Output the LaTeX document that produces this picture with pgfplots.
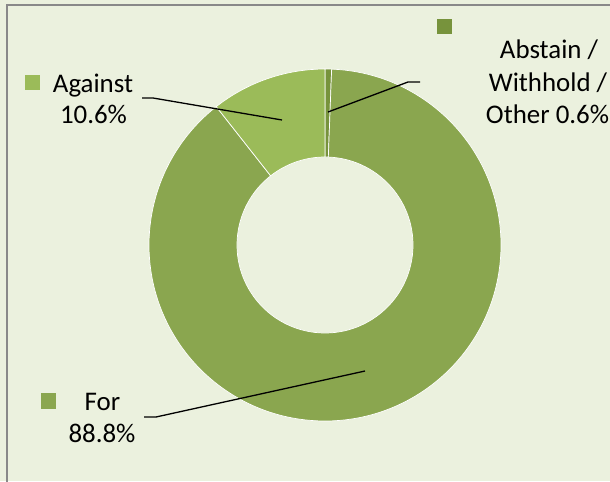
\documentclass[border=0pt]{standalone}
\usepackage{fontspec}
\setmainfont{Carlito}
\usepackage{pgfplots}
\usepackage{pgfplotstable}
\pgfplotsset{compat=1.18}
\usetikzlibrary{calc}
\definecolor{bgc}{RGB}{235,241,222}
\definecolor{forc}{RGB}{138,166,79}
\definecolor{agc}{RGB}{155,187,89}
\definecolor{abc}{RGB}{119,147,60}
\definecolor{brd}{RGB}{137,137,137}
\pgfplotstableread{
label value
Abstain 0.6
For 88.8
Against 10.6
}\votes
\newcommand\slice[3]{%
  \fill[#3,draw=white,line width=0.7bp]
    ($(axis cs:325,245)+(#1:176bp)$) arc[start angle=#1,end angle=#2,radius=176bp]
    -- ($(axis cs:325,245)+(#2:88bp)$) arc[start angle=#2,end angle=#1,radius=88bp] -- cycle;}
\begin{document}%
\pgfplotstablegetelem{0}{value}\of\votes\pgfmathsetmacro{\vA}{\pgfplotsretval}%
\pgfplotstablegetelem{1}{value}\of\votes\pgfmathsetmacro{\vB}{\pgfplotsretval}%
\pgfplotstablegetelem{2}{value}\of\votes\pgfmathsetmacro{\vC}{\pgfplotsretval}%
\pgfmathsetmacro{\aO}{90}%
\pgfmathsetmacro{\aA}{90-3.6*\vA}%
\pgfmathsetmacro{\aB}{\aA-3.6*\vB}%
\pgfmathsetmacro{\aC}{\aB-3.6*\vC}%
\begin{tikzpicture}
\begin{axis}[
  scale only axis, width=610bp, height=481bp,
  xmin=0, xmax=610, ymin=0, ymax=481, y dir=reverse,
  hide axis, clip=false,
]
\coordinate (SW) at (axis cs:0,481);
\coordinate (NE) at (axis cs:610,0);
\fill[bgc] (axis cs:0,0) rectangle (axis cs:610,481);
\draw[brd, line width=2bp] (axis cs:7,485) -- (axis cs:7,5) -- (axis cs:615,5);
\slice{\aO}{\aA}{abc}
\slice{\aA}{\aB}{forc}
\slice{\aB}{\aC}{agc}
% leader lines
\draw[black, line width=1.3bp] (axis cs:142,98) -- (axis cs:153,98) -- (axis cs:282,120);
\draw[black, line width=1.3bp] (axis cs:420,82) -- (axis cs:408,82) -- (axis cs:328,112);
\draw[black, line width=1.3bp] (axis cs:144,417) -- (axis cs:156,417) -- (axis cs:365,371);
% legend squares
\fill[agc] (axis cs:25,75) rectangle (axis cs:40,90);
\fill[abc] (axis cs:437,19) rectangle (axis cs:452,34);
\fill[forc] (axis cs:41,393) rectangle (axis cs:56,409);
% labels
\begin{scope}[every node/.style={anchor=base, inner sep=0pt, font=\fontsize{27}{32}\selectfont}]
\node at (axis cs:93,92) {Against};
\node at (axis cs:93.5,123) {10.6\%};
\node at (axis cs:549,59) {Abstain /};
\node at (axis cs:548,91) {Withhold /};
\node at (axis cs:547.5,123) {Other 0.6\%};
\node at (axis cs:102.5,410) {For};
\node at (axis cs:102,442) {88.8\%};
\end{scope}
\end{axis}
\pgfresetboundingbox
\path (SW) rectangle (NE);
\end{tikzpicture}%
\end{document}
